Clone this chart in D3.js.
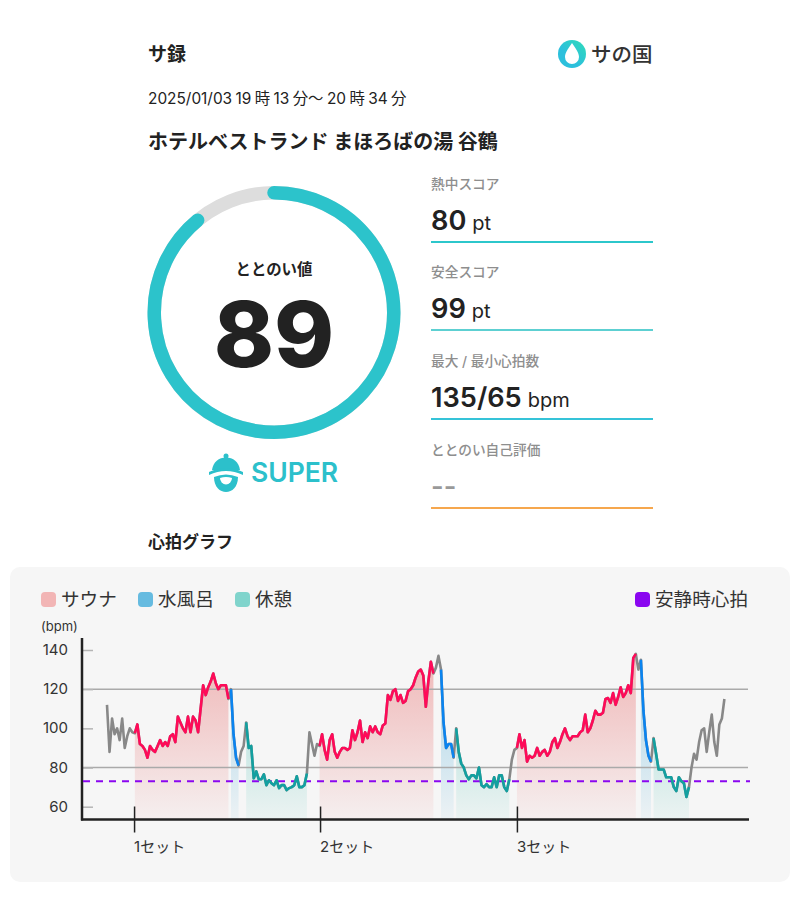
<!DOCTYPE html>
<html>
<head>
<meta charset="utf-8">
<script src="https://cdn.jsdelivr.net/npm/d3@7"></script>
<style>
  html, body { margin: 0; padding: 0; background: #fff; }
  svg { display: block; }
  text { font-family: Inter, "Noto Sans CJK JP", sans-serif; fill: #222; }
</style>
</head>
<body>
<div id="chart"></div>
<script>
// heart rate, one reading every 20 seconds from the start of the log
const heartRate = [
  112, 88, 105, 97, 100, 94, 105, 90, 96, 100, 98,
  97.5, 102, 92, 91, 89, 85, 91, 89, 88, 91, 94, 91, 93, 91, 96, 97, 93, 106, 103, 100, 98, 106, 98, 106, 104, 98, 110, 122, 117, 121, 124, 128, 123, 120, 122, 122, 122, 115,
  120, 97, 85, 81, 88, 91,
  103, 90, 91, 74.5, 78, 74, 74, 76.5, 71, 73.5, 72, 71, 73.5, 69.5, 71, 71, 68.5, 69.5, 70, 71, 75.5, 70, 70, 71, 77,
  98, 92, 86, 92, 91,
  97, 89, 84, 94, 97, 88, 85, 88, 90, 90, 89, 90, 99, 94, 98, 104, 93, 98, 95, 101, 98, 101, 98, 97, 101.5, 102.5, 117, 114.5, 119, 120, 114, 117, 113, 114, 119, 120, 122, 126, 129, 130, 127, 111, 124, 134, 128,
  131, 137, 130, 103, 90, 92, 92, 85,
  100, 88, 82, 80, 76, 74, 76, 76, 74.5, 80, 71, 70, 71.5, 70, 70, 75, 70, 76, 76, 70, 68, 74,
  84, 89,
  90, 97, 90, 94, 83, 86, 85, 86, 90, 86, 88, 89, 86, 88, 93, 95, 90, 93, 97, 100, 96, 94, 96, 96, 96, 98, 99, 107, 98, 100, 104, 109, 107, 107, 108, 115, 115.5, 113, 118, 112, 116, 121, 116, 118, 122, 118, 136, 138,
  130, 135, 109, 94, 86, 83,
  95, 87, 79, 79, 79, 75, 75, 75, 70, 68, 75, 73, 72, 65, 70,
  80, 87, 84, 93, 99, 100, 88, 98, 107, 93, 86, 102, 105, 115
];

// [first, last] reading of every phase
const saunaPhases = [[11, 48], [84, 129], [162, 209]];
const coldPhases = [[49, 52], [132, 137], [211, 215]];
const restPhases = [[55, 79], [138, 159], [216, 230]];

const restingRate = 73;
const gridTicks = [80, 120];
const yTicks = [60, 80, 100, 120, 140];
const setStarts = [10.7, 84.2, 162];
const setLabels = ['1セット', '2セット', '3セット'];

const dateParts = ['2025/01/03', '19', '時', '13', '分〜', '20', '時', '34', '分'];

const scores = [
  { label: '熱中スコア', value: '80', unit: 'pt', color: '#2cc7cb', y: 184 },
  { label: '安全スコア', value: '99', unit: 'pt', color: '#5dd0d2', y: 272 },
  { label: '最大 / 最小心拍数', value: '135/65', unit: 'bpm', color: '#35c3d8', y: 361 },
  { label: 'ととのい自己評価', value: '--', unit: '', color: '#f6a74e', y: 450 }
];
const ringValue = 89;

const svg = d3.select('#chart').append('svg')
  .attr('width', 800)
  .attr('height', 923);
const defs = svg.append('defs');

const x = d3.scaleLinear().domain([0, heartRate.length - 1]).range([107, 724.4]);
const y = d3.scaleLinear().domain([60, 140]).range([806.7, 650]);
const baseY = 819.5;

// header
svg.append('text').attr('x', 148).attr('y', 61).text('サ録')
  .style('font-size', '19px').style('font-weight', 700);
const dateText = svg.append('text').attr('x', 148).attr('y', 104)
  .style('font-size', '15.4px');
dateText.selectAll('tspan').data(dateParts).join('tspan')
  .attr('dx', (d, i) => i === 0 ? 0 : 3.4)
  .text(d => d);
svg.append('text').attr('x', 148).attr('y', 149).text('ホテルベストランド まほろばの湯 谷鶴')
  .style('font-size', '20px').style('font-weight', 700);

// logo
const logoGrad = defs.append('linearGradient').attr('id', 'logoGrad')
  .attr('x1', 1).attr('y1', 0).attr('x2', 0).attr('y2', 1);
logoGrad.append('stop').attr('offset', 0).attr('stop-color', '#2fdcb8');
logoGrad.append('stop').attr('offset', 0.6).attr('stop-color', '#2cc0dc');
svg.append('circle').attr('cx', 572).attr('cy', 54).attr('r', 14).attr('fill', 'url(#logoGrad)');
svg.append('path')
  .attr('d', 'M572 43 C575 48 579 52 579 57 A7 7 0 0 1 565 57 C565 52 569 48 572 43 Z')
  .attr('fill', '#fff');
svg.append('text').attr('x', 591).attr('y', 62).text('サの国')
  .style('font-size', '20.5px').style('font-weight', 500).style('fill', '#333');

// ring
const ring = svg.append('g').attr('transform', 'translate(274,312.5)');
const ringRadius = 119.75;
const ringPath = d3.path();
ringPath.arc(0, 0, ringRadius, -Math.PI / 2, -Math.PI / 2 + 2 * Math.PI * ringValue / 100);
ring.append('circle').attr('r', ringRadius)
  .attr('fill', 'none').attr('stroke', '#dddddd').attr('stroke-width', 13.5);
ring.append('path')
  .attr('d', ringPath.toString())
  .attr('fill', 'none').attr('stroke', '#2cc3cb').attr('stroke-width', 13.5).attr('stroke-linecap', 'round');
ring.append('text').attr('y', -38).attr('text-anchor', 'middle').text('ととのい値')
  .style('font-size', '15.4px').style('font-weight', 700);
ring.append('text').attr('y', 54).attr('text-anchor', 'middle').text(ringValue)
  .style('font-size', '91px').style('font-weight', 800);

// SUPER badge
const badge = svg.append('g').attr('transform', 'translate(226,472)').attr('fill', '#2cc0cb');
badge.append('circle').attr('cy', -16).attr('r', 2.5);
badge.append('path').attr('d', 'M-14 -2 C-13 -10 -7 -14.5 0 -14.5 C7 -14.5 13 -10 14 -2 Z');
badge.append('path').attr('d', 'M-17 3 Q0 -5 17 3 L17 0 Q0 -8 -17 0 Z');
badge.append('path').attr('d', 'M-12 5 Q0 0 12 5 C12 15 6 20 0 20 C-6 20 -12 15 -12 5 Z');
badge.append('path').attr('d', 'M-6 6 Q0 4 6 6 A6 6.5 0 0 1 -6 6 Z').attr('fill', '#fff');
svg.append('text').attr('x', 251).attr('y', 482).text('SUPER')
  .style('font-size', '26.5px').style('font-weight', 600).style('fill', '#2cc0cb');

// score list
const score = svg.append('g').selectAll('g').data(scores).join('g');
score.append('text').attr('x', 431).attr('y', d => d.y + 5).text(d => d.label)
  .style('font-size', '13.7px').style('font-weight', 500).style('fill', '#8e8e8e');
const scoreValue = score.append('text').attr('x', 431).attr('y', d => d.y + 46);
scoreValue.append('tspan').text(d => d.value)
  .style('font-size', '27.2px').style('font-weight', 600)
  .style('fill', d => d.value === '--' ? '#999' : '#222');
scoreValue.append('tspan').attr('dx', 6).text(d => d.unit)
  .style('font-size', '20px');
score.append('line')
  .attr('x1', 431).attr('x2', 653)
  .attr('y1', d => d.y + 58).attr('y2', d => d.y + 58)
  .attr('stroke', d => d.color).attr('stroke-width', 2);

svg.append('text').attr('x', 148).attr('y', 548).text('心拍グラフ')
  .style('font-size', '17px').style('font-weight', 700);

// panel
svg.append('rect').attr('x', 10).attr('y', 567).attr('width', 780).attr('height', 315)
  .attr('rx', 10).attr('fill', '#f6f6f6');

// legend
const legendItems = [
  { label: 'サウナ', color: '#f2b5b5', x: 41 },
  { label: '水風呂', color: '#66bbe0', x: 138 },
  { label: '休憩', color: '#80d4cc', x: 235 },
  { label: '安静時心拍', color: '#8a06f0', x: 635 }
];
const legend = svg.append('g').selectAll('g').data(legendItems).join('g');
legend.append('rect')
  .attr('x', d => d.x).attr('y', 592).attr('width', 15).attr('height', 15).attr('rx', 4)
  .attr('fill', d => d.color);
legend.append('text').attr('x', d => d.x + 20).attr('y', 606).text(d => d.label)
  .style('font-size', '18.6px').style('fill', '#333');

svg.append('text').attr('x', 41).attr('y', 631).text('(bpm)')
  .style('font-size', '13px').style('fill', '#333');

// phase fills, fading towards the axis
const phaseColors = [
  { id: 'saunaFill', phases: saunaPhases, fill: '#f0bcbc', line: '#ff0a58' },
  { id: 'coldFill', phases: coldPhases, fill: '#a8d4e8', line: '#0a84f0' },
  { id: 'restFill', phases: restPhases, fill: '#a4dcd6', line: '#12a0a0' }
];
phaseColors.forEach(p => {
  const g = defs.append('linearGradient').attr('id', p.id)
    .attr('gradientUnits', 'userSpaceOnUse')
    .attr('x1', 0).attr('x2', 0).attr('y1', y(130)).attr('y2', baseY);
  g.append('stop').attr('offset', 0).attr('stop-color', p.fill);
  g.append('stop').attr('offset', 1).attr('stop-color', p.fill).attr('stop-opacity', 0.12);
});

const area = d3.area().x(d => x(d)).y0(baseY).y1(d => y(heartRate[d]));
const line = d3.line().x(d => x(d)).y(d => y(heartRate[d]));
const span = r => d3.range(r[0], r[1] + 1);

phaseColors.forEach(p => {
  svg.append('g').selectAll('path').data(p.phases).join('path')
    .attr('d', r => area(span(r)))
    .attr('fill', `url(#${p.id})`);
});

// grid lines and axes
svg.append('g').selectAll('line').data(gridTicks).join('line')
  .attr('x1', 82).attr('x2', 748)
  .attr('y1', d => y(d)).attr('y2', d => y(d))
  .attr('stroke', '#aaaaaa').attr('stroke-width', 1.5);

const yAxis = svg.append('g').attr('transform', 'translate(82,0)')
  .call(d3.axisRight(y).tickValues(yTicks).tickSize(11).tickFormat(''));
yAxis.select('.domain').remove();
yAxis.selectAll('line').attr('stroke', '#b5b5b5').attr('stroke-width', 1.5);
svg.append('g').selectAll('text').data(yTicks).join('text')
  .attr('x', 68).attr('y', d => y(d) + 5).attr('text-anchor', 'end').text(d => d)
  .style('font-size', '15px').style('fill', '#333');

svg.append('line').attr('x1', 82).attr('x2', 82).attr('y1', 638).attr('y2', baseY + 1)
  .attr('stroke', '#222').attr('stroke-width', 2.5);
svg.append('line').attr('x1', 81).attr('x2', 749).attr('y1', baseY).attr('y2', baseY)
  .attr('stroke', '#222').attr('stroke-width', 2.5);

const xAxis = svg.append('g').attr('transform', `translate(0,${baseY})`)
  .call(d3.axisBottom(x).tickValues(setStarts).tickSize(13).tickFormat(''));
xAxis.select('.domain').remove();
xAxis.selectAll('line').attr('y1', -13).attr('stroke', '#222').attr('stroke-width', 1.5);
svg.append('g').selectAll('text').data(setStarts).join('text')
  .attr('x', d => x(d)).attr('y', 852).text((d, i) => setLabels[i])
  .style('font-size', '15px').style('fill', '#333');

// resting heart rate
svg.append('line').attr('x1', 83).attr('x2', 750)
  .attr('y1', y(restingRate)).attr('y2', y(restingRate))
  .attr('stroke', '#8a06f0').attr('stroke-width', 2).attr('stroke-dasharray', '7,6');

// heart rate line: grey everywhere, coloured over the phases
svg.append('path').attr('d', line(d3.range(heartRate.length)))
  .attr('fill', 'none').attr('stroke', '#888').attr('stroke-width', 2.6).attr('stroke-linejoin', 'round');
phaseColors.forEach(p => {
  svg.append('g').selectAll('path').data(p.phases).join('path')
    .attr('d', r => line(span(r)))
    .attr('fill', 'none').attr('stroke', p.line).attr('stroke-width', 2.6).attr('stroke-linejoin', 'round');
});
</script>
</body>
</html>
